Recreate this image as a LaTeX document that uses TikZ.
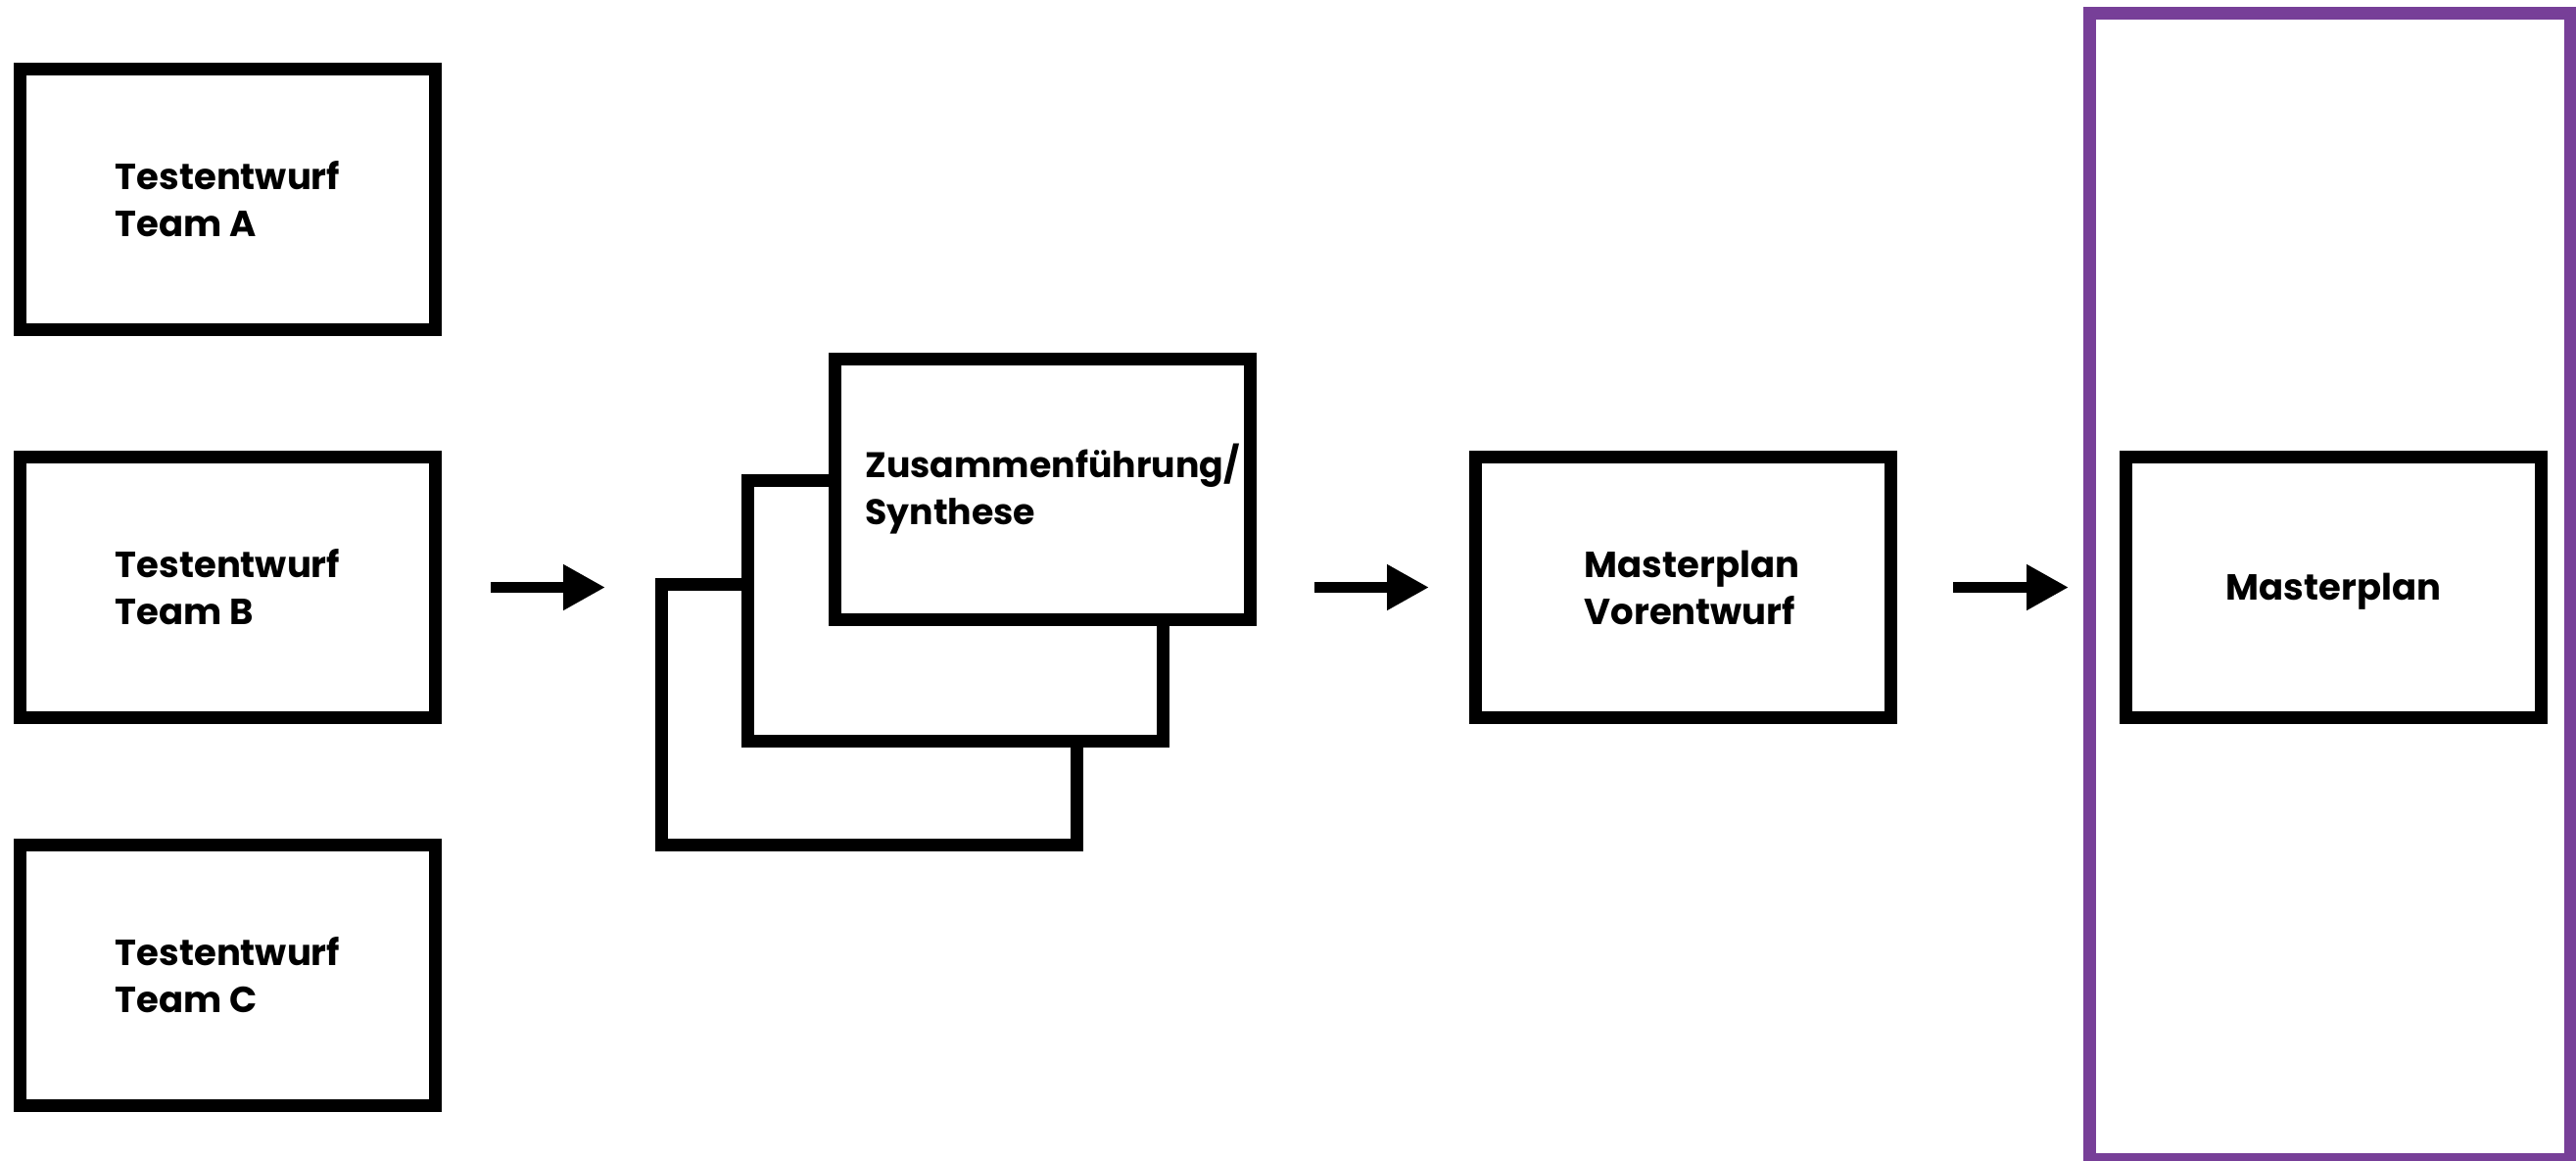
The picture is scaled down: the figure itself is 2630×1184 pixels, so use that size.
\documentclass[tikz,border=0pt]{standalone}
\usepackage{fontspec}
\setmainfont{Poppins}
\usetikzlibrary{arrows.meta}
\definecolor{framepurple}{RGB}{119,63,152}
\begin{document}
\begin{tikzpicture}[x=1pt,y=-1pt,
  box/.style={draw=black,line width=13pt,fill=white,minimum width=424pt,minimum height=266pt,
    inner sep=0pt,outer sep=0pt,align=left,font=\fontsize{37}{48}\selectfont\bfseries},
  frame/.style={draw=framepurple,line width=13pt,minimum width=491pt,minimum height=1170.5pt,
    inner sep=0pt,outer sep=0pt},
  arr/.style={line width=11pt,-{Triangle[length=43pt,width=44pt]}}
]
\useasboundingbox (0,0) rectangle (2630,1184);
% left column
\node[box] (tA) at (232.5,203.5) {Testentwurf\\Team A};
\node[box] (tB) at (232.5,599.5) {Testentwurf\\Team B};
\node[box] (tC) at (232.5,995.5) {Testentwurf\\Team C};
% stack
\node[box] (back) at (887.5,729) {};
\node[box] (mid) at (975.5,623.5) {};
\node[box, font=\fontsize{36.3}{48}\selectfont\bfseries] (front) at (1064.5,499)
  {\hspace*{20pt}Zusammenführung/\\\hspace*{20pt}Synthese};
% pre-draft
\node[box] (vor) at (1718.5,599.5) {\hspace*{18pt}Masterplan\\\hspace*{18pt}Vorentwurf};
% frame and master plan
\node[frame] (frm) at (2379,598.25) {};
\node[box, text depth=2pt] (master) at (2382.5,599.5) {Masterplan};
% arrows
\draw[arr, shorten <=56.5pt, shorten >=57.5pt] (tB.east) -- (tB.east -| back.west);
\draw[arr, shorten <=65.5pt, shorten >=47.5pt] (vor.west -| front.east) -- (vor.west);
\draw[arr, shorten <=63.5pt, shorten >=58.5pt] (vor.east) -- (master.west);
\end{tikzpicture}
\end{document}
